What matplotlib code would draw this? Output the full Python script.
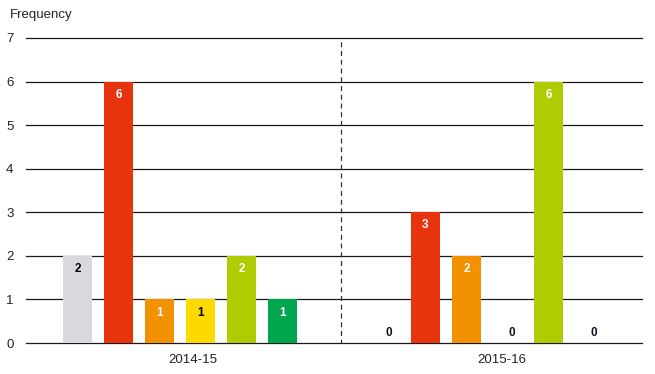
import numpy as np
import matplotlib.pyplot as plt

plt.rcParams['font.family'] = ['Liberation Sans', 'DejaVu Sans']

# Data
years = ['2014-15', '2015-16']
values_2014 = [2, 6, 1, 1, 2, 1]
values_2015 = [0, 3, 2, 0, 6, 0]
colors = ['#D8D8DF', '#E8330F', '#F29200', '#FCDA00', '#B1CB03', '#00A64E']
label_colors = ['black', 'white', 'white', 'black', 'white', 'white']

fig = plt.figure(figsize=(6.55, 3.74), dpi=100)
ax = fig.add_axes([26 / 655, 31 / 374, 616 / 655, 305 / 374])

# horizontal grid lines
for yv in range(0, 8):
    ax.axhline(yv, color='#1a1a1a', linewidth=0.9, zorder=1, clip_on=False)

group_start = [1.26, 8.74]
bar_w = 0.71
for start, vals in zip(group_start, [values_2014, values_2015]):
    x = start + np.arange(len(vals))
    ax.bar(x, vals, width=bar_w, color=colors, zorder=3)
    for xi, v, lc in zip(x, vals, label_colors):
        if v == 0:
            ax.text(xi + 0.1, 0.23, '0', ha='center', va='center',
                    fontsize=8.5, fontweight='bold', color='#111122', zorder=4)
        else:
            ax.text(xi, v - 0.3, str(v), ha='center', va='center',
                    fontsize=8.5, fontweight='bold', color=lc, zorder=4)

ax.set_xlim(0, 15.02)
ax.set_ylim(0, 7)
ax.set_yticks(range(0, 8))
ax.axvline(7.68, color='#333333', linestyle=(1, (4, 3)),
           linewidth=0.9, zorder=2)

ax.set_xticks([4.07, 11.59])
ax.set_xticklabels(years)
ax.tick_params(axis='both', length=0, labelsize=9.5, colors='#222222')
ax.tick_params(axis='y', pad=9)
ax.tick_params(axis='x', pad=8)
for s in ax.spines.values():
    s.set_visible(False)

fig.text(10 / 655, 1 - 15 / 374, 'Frequency', fontsize=9.5, color='#222222',
         ha='left', va='center')

fig.savefig('out.png', dpi=100)
